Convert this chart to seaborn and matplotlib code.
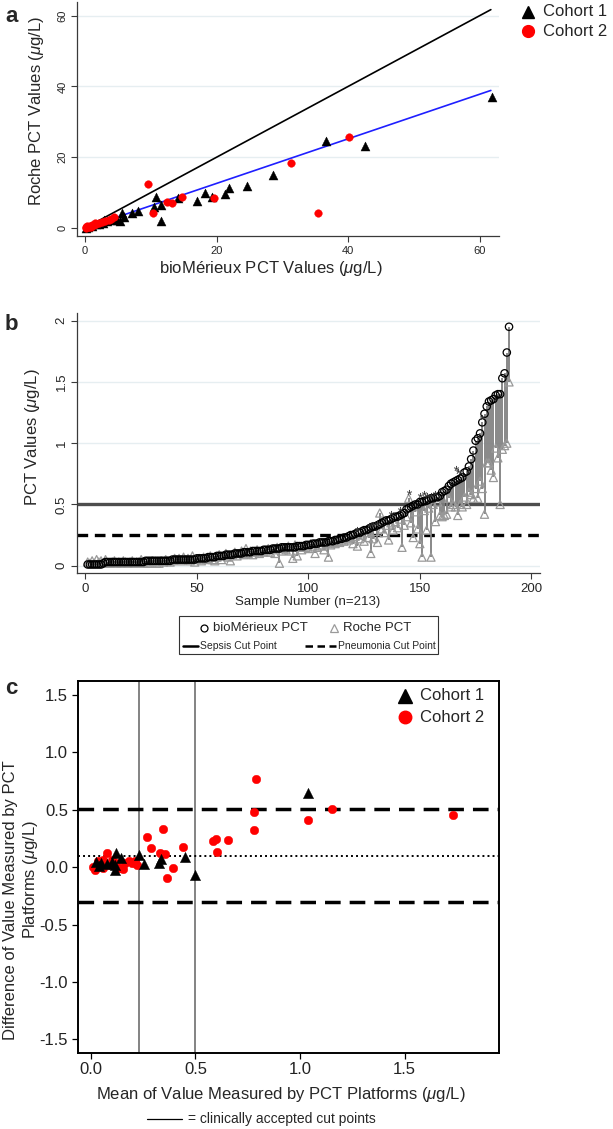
import numpy as np
import pandas as pd
import matplotlib
matplotlib.use("Agg")
import matplotlib.pyplot as plt
import seaborn as sns
from matplotlib.lines import Line2D
from matplotlib.patches import Rectangle

# ---------------- data ----------------
# Panel a: bioMérieux vs Roche PCT (ug/L)
a_c1_bio = [61.9, 36.7, 42.6, 28.6, 24.6, 21.9, 21.3, 18.2, 19.3, 17.1, 14.1, 10.8, 10.5, 11.5, 11.5,
            8.0, 7.2, 5.6, 6.0, 4.9, 4.3, 2.9, 2.7, 0.2, 0.5, 1.0, 1.6, 2.1, 3.4, 5.3]
a_c1_roche = [36.9, 24.5, 23.2, 15.1, 11.8, 11.4, 9.6, 10.0, 8.7, 7.5, 8.4, 8.8, 5.8, 6.4, 2.1,
              4.8, 4.1, 4.1, 3.0, 2.3, 2.3, 2.3, 1.5, 0.1, 0.3, 0.6, 1.0, 1.2, 2.0, 2.0]
a_c2_bio = [40.2, 31.3, 35.4, 19.6, 9.5, 10.3, 14.7, 13.2, 12.4, 4.4, 0.1, 0.2, 0.4, 0.6, 0.8,
            1.0, 1.3, 1.7, 2.1, 2.6, 3.0, 3.6, 4.0, 0.3, 0.9, 1.5]
a_c2_roche = [25.8, 18.4, 4.3, 8.4, 12.4, 4.3, 8.8, 7.2, 7.4, 3.0, 0.1, 0.2, 0.4, 0.3, 0.6,
              0.9, 0.8, 1.2, 1.4, 1.7, 1.9, 2.3, 2.5, 0.6, 0.4, 1.3]
a_line_x = [0.0, 61.7]
a_fit_slope = 0.63
a_fit_intercept = 0.0

# Panel b: sorted bioMérieux values with matching Roche values
b_bio = [0.01, 0.01, 0.01, 0.01, 0.01, 0.01, 0.01, 0.02, 0.03, 0.03,
         0.03, 0.03, 0.03, 0.03, 0.03, 0.03, 0.03, 0.03, 0.03, 0.03,
         0.03, 0.03, 0.03, 0.03, 0.03, 0.03, 0.04, 0.04, 0.04, 0.04,
         0.04, 0.04, 0.04, 0.04, 0.04, 0.04, 0.04, 0.04, 0.05, 0.05,
         0.05, 0.05, 0.05, 0.05, 0.05, 0.05, 0.05, 0.05, 0.05, 0.06,
         0.06, 0.06, 0.06, 0.06, 0.07, 0.07, 0.07, 0.07, 0.08, 0.08,
         0.08, 0.08, 0.09, 0.09, 0.09, 0.09, 0.10, 0.10, 0.10, 0.10,
         0.11, 0.11, 0.11, 0.11, 0.12, 0.12, 0.12, 0.12, 0.12, 0.13,
         0.13, 0.13, 0.13, 0.14, 0.14, 0.14, 0.14, 0.15, 0.15, 0.15,
         0.15, 0.15, 0.15, 0.15, 0.16, 0.16, 0.16, 0.16, 0.17, 0.17,
         0.17, 0.18, 0.18, 0.18, 0.19, 0.19, 0.19, 0.19, 0.20, 0.20,
         0.20, 0.21, 0.21, 0.22, 0.22, 0.23, 0.23, 0.24, 0.25, 0.25,
         0.26, 0.27, 0.27, 0.28, 0.29, 0.29, 0.30, 0.31, 0.32, 0.32,
         0.33, 0.34, 0.35, 0.36, 0.37, 0.37, 0.38, 0.39, 0.40, 0.40,
         0.41, 0.42, 0.43, 0.46, 0.47, 0.48, 0.49, 0.50, 0.50, 0.52,
         0.52, 0.53, 0.53, 0.54, 0.55, 0.55, 0.56, 0.56, 0.57, 0.60,
         0.61, 0.62, 0.65, 0.67, 0.68, 0.69, 0.70, 0.71, 0.72, 0.76,
         0.77, 0.81, 0.87, 0.94, 1.02, 1.04, 1.08, 1.17, 1.24, 1.30,
         1.34, 1.35, 1.36, 1.39, 1.40, 1.40, 1.53, 1.57, 1.74, 1.95]
b_roche = [0.03, 0.02, 0.04, 0.02, 0.05, 0.03, 0.04, 0.02, 0.05, 0.02,
           0.02, 0.03, 0.04, 0.02, 0.03, 0.02, 0.04, 0.03, 0.02, 0.03,
           0.04, 0.02, 0.03, 0.03, 0.05, 0.02, 0.03, 0.02, 0.02, 0.04,
           0.03, 0.02, 0.02, 0.04, 0.03, 0.05, 0.04, 0.03, 0.04, 0.06,
           0.05, 0.06, 0.04, 0.07, 0.05, 0.06, 0.04, 0.08, 0.03, 0.05,
           0.06, 0.04, 0.07, 0.05, 0.06, 0.08, 0.05, 0.04, 0.07, 0.09,
           0.05, 0.08, 0.10, 0.07, 0.04, 0.09, 0.11, 0.08, 0.10, 0.12,
           0.09, 0.14, 0.10, 0.12, 0.09, 0.11, 0.13, 0.10, 0.12, 0.11,
           0.12, 0.14, 0.11, 0.13, 0.10, 0.15, 0.02, 0.12, 0.14, 0.13,
           0.16, 0.12, 0.06, 0.17, 0.08, 0.15, 0.13, 0.16, 0.15, 0.14,
           0.18, 0.16, 0.10, 0.15, 0.17, 0.16, 0.13, 0.18, 0.07, 0.17,
           0.19, 0.18, 0.20, 0.19, 0.21, 0.20, 0.22, 0.21, 0.23, 0.18,
           0.24, 0.16, 0.22, 0.25, 0.20, 0.27, 0.23, 0.10, 0.22, 0.28,
           0.19, 0.43, 0.30, 0.27, 0.33, 0.21, 0.35, 0.29, 0.36, 0.31,
           0.38, 0.15, 0.33, 0.40, 0.55, 0.35, 0.23, 0.44, 0.30, 0.18,
           0.07, 0.45, 0.29, 0.47, 0.07, 0.50, 0.36, 0.52, 0.41, 0.40,
           0.41, 0.42, 0.55, 0.48, 0.50, 0.48, 0.41, 0.50, 0.48, 0.56,
           0.50, 0.60, 0.58, 0.55, 0.63, 0.55, 0.69, 0.63, 0.42, 0.84,
           0.84, 0.78, 0.72, 0.96, 0.88, 0.50, 0.95, 0.98, 1.00, 1.50]
b_star_x = [122, 127, 129, 131, 137, 141, 145, 150, 152, 153, 155, 157, 166, 167, 178]
b_star_y = [0.30, 0.33, 0.34, 0.35, 0.43, 0.46, 0.60, 0.58, 0.59, 0.58, 0.58, 0.59, 0.80, 0.77, 1.21]
b_sepsis_cut = 0.5
b_pneumonia_cut = 0.25

# Panel c: Bland-Altman
c_c1_mean = [1.036, 0.497, 0.448, 0.333, 0.324, 0.253, 0.230, 0.122, 0.146, 0.113, 0.113, 0.078,
             0.046, 0.022, 0.038, 0.099]
c_c1_diff = [0.644, -0.068, 0.092, 0.069, 0.034, 0.028, 0.106, 0.127, 0.077, -0.024, 0.020, 0.028,
             0.034, 0.048, 0.013, 0.048]
c_c2_mean = [0.789, 1.154, 1.729, 1.036, 0.781, 0.779, 0.586, 0.596, 0.656, 0.605, 0.345, 0.268,
             0.285, 0.440, 0.328, 0.352, 0.392, 0.365, 0.075, 0.221, 0.212, 0.184, 0.165, 0.155,
             0.137, 0.100, 0.056, 0.056, 0.020, 0.009, 0.032, 0.089, 0.118, 0.195]
c_c2_diff = [0.768, 0.504, 0.455, 0.411, 0.484, 0.324, 0.228, 0.245, 0.236, 0.130, 0.333, 0.266,
             0.170, 0.176, 0.127, 0.116, -0.004, -0.091, 0.127, 0.020, 0.055, 0.050, 0.037, -0.015,
             -0.006, 0.060, 0.060, -0.006, -0.026, 0.003, 0.056, 0.020, 0.037, 0.037]
c_cut_points = [0.23, 0.5]
c_limits = [0.51, -0.30]
c_mean_diff = 0.10

# ---------------- style ----------------
sns.set_theme(style="white")
plt.rcParams["font.family"] = ["Liberation Sans", "DejaVu Sans"]
plt.rcParams["mathtext.fontset"] = "custom"
plt.rcParams["mathtext.rm"] = "Liberation Sans"
plt.rcParams["mathtext.it"] = "Liberation Sans:italic"

W, H = 613, 1129
fig = plt.figure(figsize=(W / 100, H / 100), dpi=100)
fig.patch.set_facecolor("white")


def fx(x):
    return x / W


def fy(y):
    return 1 - y / H


def add_axes_px(l, t, r, b):
    return fig.add_axes([fx(l), fy(b), (r - l) / W, (b - t) / H])


GRID = "#e6eef1"
SPINE = "#3a3a3a"
UG = r"($\mu$g/L)"

# ---------------- panel a ----------------
ax = add_axes_px(77.2, 1.5, 499.4, 236)
ax.set_xlim(-1.19, 63.0)
ax.set_ylim(-2.26, 64.0)
for v in [20, 40, 60]:
    ax.axhline(v, color=GRID, lw=1.0, zorder=0)
lx = np.array(a_line_x)
sns.lineplot(x=lx, y=lx, ax=ax, color="black", lw=1.2, zorder=2)
sns.lineplot(x=lx, y=a_fit_intercept + a_fit_slope * lx, ax=ax, color="#1f1fff", lw=1.2, zorder=2)
sns.scatterplot(x=a_c1_bio, y=a_c1_roche, ax=ax, marker="^", color="black", s=42,
                edgecolor="black", linewidth=0.3, zorder=3)
sns.scatterplot(x=a_c2_bio, y=a_c2_roche, ax=ax, marker="o", color="#ff0000", s=30,
                edgecolor="#ff0000", linewidth=0.3, zorder=4)
ax.set_xticks([0, 20, 40, 60])
ax.set_yticks([0, 20, 40, 60])
ax.tick_params(axis="both", labelsize=8, length=4, width=0.8, color=SPINE, bottom=True, left=True,
               direction="out", pad=3)
ax.tick_params(axis="y", labelrotation=90)
for lab in ax.get_yticklabels():
    lab.set_va("center")
for s in ["top", "right"]:
    ax.spines[s].set_visible(False)
for s in ["left", "bottom"]:
    ax.spines[s].set_color(SPINE)
    ax.spines[s].set_linewidth(0.9)
ax.set_xlabel("")
ax.set_ylabel("")
fig.text(fx(37), fy(111), "Roche PCT Values " + UG, rotation=90, ha="center", va="center", fontsize=12)
fig.text(fx(271), fy(269), "bioMérieux PCT Values " + UG, ha="center", va="center", fontsize=12)
fig.text(fx(5), fy(16), "a", fontsize=16, fontweight="bold", ha="left", va="center")
fig.add_artist(Line2D([fx(528)], [fy(12)], marker="^", color="black", markersize=9, linestyle="none"))
fig.add_artist(Line2D([fx(528)], [fy(31)], marker="o", color="#ff0000", markersize=8.5, linestyle="none"))
fig.text(fx(543), fy(12), "Cohort 1", fontsize=12, va="center", ha="left")
fig.text(fx(543), fy(31), "Cohort 2", fontsize=12, va="center", ha="left")

# ---------------- panel b ----------------
bx = add_axes_px(77.2, 313.3, 539.8, 573.3)
bx.set_xlim(-3.7, 203.8)
bx.set_ylim(-0.062, 2.06)
for v in [0, 0.5, 1, 1.5, 2]:
    bx.axhline(v, color=GRID, lw=1.0, zorder=0)
bx.axhline(b_sepsis_cut, color="#4d4d4d", lw=2.4, zorder=1)
bx.axhline(b_pneumonia_cut, color="black", lw=2.4, linestyle=(0, (3.2, 2.0)), zorder=1)
samples = np.arange(1, len(b_bio) + 1)
dfb = pd.DataFrame({"sample": samples, "bio": b_bio, "roche": b_roche})
bx.vlines(dfb["sample"], dfb["roche"], dfb["bio"], color="#7f7f7f", lw=1.3, zorder=2)
sns.scatterplot(data=dfb, x="sample", y="roche", ax=bx, marker="^", s=34, facecolor="none",
                edgecolor="#999999", linewidth=0.9, zorder=3)
sns.scatterplot(data=dfb, x="sample", y="bio", ax=bx, marker="o", s=28, facecolor="none",
                edgecolor="black", linewidth=0.9, zorder=4)
sns.scatterplot(x=b_star_x, y=b_star_y, ax=bx, marker=r"$*$", s=14, color="#333333",
                linewidth=0, zorder=5)
bx.set_xticks([0, 50, 100, 150, 200])
bx.set_yticks([0, 0.5, 1, 1.5, 2])
bx.set_yticklabels(["0", "0.5", "1", "1.5", "2"])
bx.tick_params(axis="both", labelsize=9.5, length=4, width=0.8, color=SPINE, bottom=True, left=True,
               direction="out", pad=3)
bx.tick_params(axis="y", labelrotation=90)
for lab in bx.get_yticklabels():
    lab.set_va("center")
for s in ["top", "right"]:
    bx.spines[s].set_visible(False)
for s in ["left", "bottom"]:
    bx.spines[s].set_color(SPINE)
    bx.spines[s].set_linewidth(0.9)
bx.set_xlabel("")
bx.set_ylabel("")
fig.text(fx(33), fy(437), "PCT Values " + UG, rotation=90, ha="center", va="center", fontsize=12)
fig.text(fx(308), fy(601.7), "Sample Number (n=213)", ha="center", va="center", fontsize=9.5)
fig.text(fx(5), fy(325), "b", fontsize=16, fontweight="bold", ha="left", va="center")

# legend box panel b
fig.add_artist(Rectangle((fx(179), fy(654.3)), (437.9 - 179) / W, (654.3 - 616) / H,
                         transform=fig.transFigure, facecolor="white", edgecolor="#333333", lw=0.8))
fig.add_artist(Line2D([fx(204)], [fy(628.3)], marker="o", markersize=5, markerfacecolor="none",
                      markeredgecolor="black", markeredgewidth=0.9, linestyle="none"))
fig.text(fx(213), fy(628.3), "bioMérieux PCT", fontsize=9.5, va="center", ha="left")
fig.add_artist(Line2D([fx(334)], [fy(628.3)], marker="^", markersize=5.5, markerfacecolor="none",
                      markeredgecolor="#9a9a9a", markeredgewidth=0.9, linestyle="none"))
fig.text(fx(343), fy(628.3), "Roche PCT", fontsize=9.5, va="center", ha="left")
fig.add_artist(Line2D([fx(183), fx(198)], [fy(645.7), fy(645.7)], color="black", lw=1.8))
fig.text(fx(200.5), fy(645.7), "Sepsis Cut Point", fontsize=7.5, va="center", ha="left",
         family=["Liberation Sans Narrow", "Liberation Sans", "DejaVu Sans"])
fig.add_artist(Line2D([fx(305), fx(336)], [fy(645.7), fy(645.7)], color="black", lw=1.8,
                      linestyle=(0, (3, 1.8))))
fig.text(fx(337.5), fy(645.7), "Pneumonia Cut Point", fontsize=7.5, va="center", ha="left",
         family=["Liberation Sans Narrow", "Liberation Sans", "DejaVu Sans"])

# ---------------- panel c ----------------
cx = add_axes_px(77.6, 680.7, 498.6, 1052.7)
cx.set_xlim(-0.0636, 1.949)
cx.set_ylim(-1.616, 1.625)
for v in c_cut_points:
    cx.axvline(v, color="#6e6e6e", lw=1.2, zorder=1)
for v in c_limits:
    cx.axhline(v, color="black", lw=2.5, linestyle=(0, (4.5, 2.6)), zorder=1)
cx.axhline(c_mean_diff, color="black", lw=1.4, linestyle=(0, (1, 1.6)), zorder=1)
sns.scatterplot(x=c_c2_mean, y=c_c2_diff, ax=cx, marker="o", color="#ff0000", s=38,
                edgecolor="#ff0000", linewidth=0.3, zorder=3)
sns.scatterplot(x=c_c1_mean, y=c_c1_diff, ax=cx, marker="^", color="black", s=55,
                edgecolor="black", linewidth=0.3, zorder=4)
cx.set_xticks([0.0, 0.5, 1.0, 1.5])
cx.set_xticklabels(["0.0", "0.5", "1.0", "1.5"])
cx.set_yticks([-1.5, -1.0, -0.5, 0.0, 0.5, 1.0, 1.5])
cx.set_yticklabels(["-1.5", "-1.0", "-0.5", "0.0", "0.5", "1.0", "1.5"])
cx.tick_params(axis="both", labelsize=12, length=4, width=0.9, color="black", bottom=True, left=True,
               direction="out", pad=3, labelcolor="#222222")
for s in ["top", "right", "left", "bottom"]:
    cx.spines[s].set_visible(True)
    cx.spines[s].set_color("black")
    cx.spines[s].set_linewidth(1.4)
cx.set_xlabel("")
cx.set_ylabel("")
fig.text(fx(11), fy(900), "Difference of Value Measured by PCT", rotation=90, ha="center",
         va="center", fontsize=12)
fig.text(fx(30), fy(879), "Platforms " + UG, rotation=90, ha="center", va="center", fontsize=12)
fig.text(fx(281), fy(1095), "Mean of Value Measured by PCT Platforms " + UG, ha="center",
         va="center", fontsize=12)
fig.add_artist(Line2D([fx(147), fx(182)], [fy(1119), fy(1119)], color="black", lw=0.9))
fig.text(fx(188), fy(1119), "= clinically accepted cut points", ha="left", va="center", fontsize=10)
fig.text(fx(5), fy(689), "c", fontsize=16, fontweight="bold", ha="left", va="center")
fig.add_artist(Line2D([fx(405)], [fy(696)], marker="^", color="black", markersize=9.5, linestyle="none"))
fig.add_artist(Line2D([fx(405)], [fy(717)], marker="o", color="#ff0000", markersize=9, linestyle="none"))
fig.text(fx(420), fy(696), "Cohort 1", fontsize=12, va="center", ha="left")
fig.text(fx(420), fy(717), "Cohort 2", fontsize=12, va="center", ha="left")

fig.savefig("out.png", dpi=100, facecolor="white")
